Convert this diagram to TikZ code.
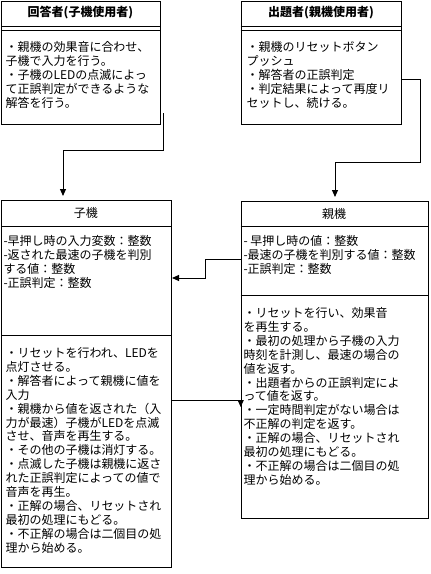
\documentclass[tikz,border=0pt]{standalone}
\usepackage{fontspec}
\setmainfont{Noto Sans CJK JP}
\usepackage{tikz}
\usetikzlibrary{arrows.meta}

\begin{document}
\begin{tikzpicture}[x=1pt,y=-1pt,line width=1pt,
  box/.style={draw,anchor=north west,inner sep=0},
  head/.style={font=\fontsize{12}{14}\selectfont\bfseries},
  txt/.style={anchor=north west,inner sep=0,align=left,font=\fontsize{12}{13.9}\selectfont},
  arr/.style={-{Triangle[length=7pt,width=6pt]}}]
\useasboundingbox (0,0) rectangle (431,574);
% users
\node[box,minimum width=159pt,minimum height=123.5pt] (ans) at (1,0.5) {};
\node[head] (ansH) at (80.5,13) {回答者(子機使用者)};
\draw (1,26) -- (160,26) (1,30) -- (160,30);
\node[txt] (ansT) at (5,41) {・親機の効果音に合わせ、\\子機で入力を行う。\\・子機のLEDの点滅によっ\\て正誤判定ができるような\\解答を行う。};
\node[box,minimum width=160.3pt,minimum height=123.5pt] (que) at (240.7,0.5) {};
\node[head] (queH) at (321,13) {出題者(親機使用者)};
\draw (240.7,26) -- (401,26) (240.7,30) -- (401,30);
\node[txt] (queT) at (246,41) {・親機のリセットボタン\\プッシュ\\・解答者の正誤判定\\・判定結果によって再度リ\\セットし、続ける。};
% devices
\node[box,minimum width=170pt,minimum height=367pt] (ko) at (1,200) {};
\node[head,font=\fontsize{12}{14}\selectfont] (koH) at (86,213) {子機};
\draw (1,226) -- (171,226) (1,335) -- (171,335);
\node[txt] (koA) at (3,235) {-早押し時の入力変数：整数\\-返された最速の子機を判別\\する値：整数\\-正誤判定：整数};
\node[txt] (koM) at (5,347) {・リセットを行われ、LEDを\\点灯させる。\\・解答者によって親機に値を\\入力\\・親機から値を返された（入\\力が最速）子機がLEDを点滅\\させ、音声を再生する。\\・その他の子機は消灯する。\\・点滅した子機は親機に返さ\\れた正誤判定によっての値で\\音声を再生。\\・正解の場合、リセットされ\\最初の処理にもどる。\\・不正解の場合は二個目の処\\理から始める。};
\node[box,minimum width=187.3pt,minimum height=317pt] (oya) at (240.7,201) {};
\node[head,font=\fontsize{12}{14}\selectfont] (oyaH) at (334,214) {親機};
\draw (240.7,226) -- (428,226) (240.7,295) -- (428,295);
\node[txt] (oyaA) at (243,235) {- 早押し時の値：整数\\-最速の子機を判別する値：整数\\-正誤判定：整数};
\node[txt] (oyaM) at (243,307) {・リセットを行い、効果音\\を再生する。\\・最初の処理から子機の入力\\時刻を計測し、最速の場合の\\値を返す。\\・出題者からの正誤判定によ\\って値を返す。\\・一定時間判定がない場合は\\不正解の判定を返す。\\・正解の場合、リセットされ\\最初の処理にもどる。\\・不正解の場合は二個目の処\\理から始める。};
% connectors
\coordinate (ansOut) at (163,113);
\draw[arr,shorten >=4pt] (ansOut) |- (63,150) -- (ko.north -| 63,0);
\draw[arr,shorten >=4pt] (que.east |- 0,79) -| (420,162) -| (oya.north -| 335,0);
\draw[arr] (oya.west |- 0,259) -| (205,278) -- (ko.east |- 0,278);
\draw[arr] (ko.east |- 0,400) -- (oya.west |- 0,400) -- (240.7,407);
\end{tikzpicture}
\end{document}
